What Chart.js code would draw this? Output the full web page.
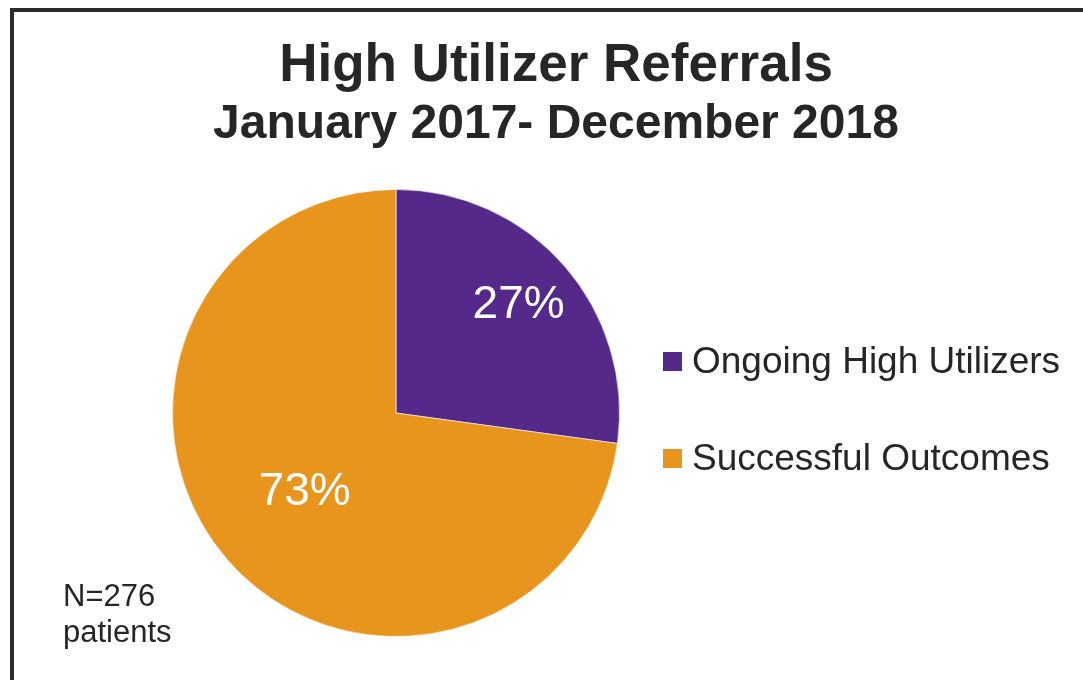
<!DOCTYPE html>
<html>
<head>
<meta charset="utf-8">
<script src="https://cdn.jsdelivr.net/npm/chart.js@4.4.1/dist/chart.umd.min.js"></script>
<style>
  html, body { margin: 0; padding: 0; background: #fff; overflow: hidden; }
  #wrap { position: relative; width: 1083px; height: 680px; }
  #frame {
    position: absolute; left: 10px; top: 8px; width: 2000px; height: 2000px;
    border-left: 4px solid #2b2b2b; border-top: 4px solid #2b2b2b;
  }
  #myChart { position: absolute; left: 0; top: 0; }
</style>
</head>
<body>
<div id="wrap">
  <div id="frame"></div>
  <canvas id="myChart" width="1083" height="680"></canvas>
</div>
<script>
(function () {
    "use strict";

    // data (N=276 patients, 27% / 73%)
    var categories = ['Ongoing High Utilizers', 'Successful Outcomes'];
    var patients = [75, 201];
    var sliceColors = ['#55298a', '#e8951d'];

    var titleText = 'High Utilizer Referrals';
    var subtitleText = 'January 2017- December 2018';

    // how far out along the radius each % label sits
    var labelRadius = [0.74, 0.53];

    var textColor = '#262626';
    var fontFamily = '"Liberation Sans", Arial, sans-serif';

    var extras = {
        id: 'extras',
        afterDraw: function (chart) {
            var c = chart.ctx;
            var meta = chart.getDatasetMeta(0);
            var ds = chart.data.datasets[0];
            var total = ds.data.reduce(function (a, b) { return a + b; }, 0);
            c.save();

            // title + subtitle
            c.fillStyle = textColor;
            c.textAlign = 'center';
            c.textBaseline = 'alphabetic';
            c.font = 'bold 53px ' + fontFamily;
            c.fillText(titleText, 556, 81);
            c.font = 'bold 48px ' + fontFamily;
            c.fillText(subtitleText, 556, 138);

            // percentage labels on the slices
            c.fillStyle = '#ffffff';
            c.font = '46px ' + fontFamily;
            c.textBaseline = 'middle';
            meta.data.forEach(function (arc, i) {
                var p = arc.getProps(['x', 'y', 'startAngle', 'endAngle', 'outerRadius'], true);
                var mid = (p.startAngle + p.endAngle) / 2;
                var r = p.outerRadius * labelRadius[i];
                var pct = Math.round(ds.data[i] / total * 100) + '%';
                c.fillText(pct, p.x + Math.cos(mid) * r - 2, p.y + Math.sin(mid) * r + 1);
            });

            // legend
            c.textAlign = 'left';
            c.textBaseline = 'alphabetic';
            c.font = '37px ' + fontFamily;
            chart.data.labels.forEach(function (lbl, i) {
                var y = 373 + i * 97;
                c.fillStyle = ds.backgroundColor[i];
                c.fillRect(663, y - 21, 19, 19);
                c.fillStyle = textColor;
                c.fillText(lbl, 692, y);
            });

            // N note
            c.font = '31px ' + fontFamily;
            c.fillText('N=' + total, 63, 606);
            c.fillText('patients', 63, 642);

            c.restore();
        }
    };

    var ctx = document.getElementById('myChart').getContext('2d');
    var chart = new Chart(ctx, {
        type: 'pie',
        data: {
            labels: categories,
            datasets: [{
                data: patients,
                backgroundColor: sliceColors,
                borderColor: 'rgba(255,255,255,0.6)',
                borderWidth: 1
            }]
        },
        options: {
            responsive: false,
            animation: false,
            layout: {
                padding: { left: 172, right: 463, top: 189, bottom: 43 }
            },
            plugins: {
                legend: { display: false },
                title: { display: false },
                tooltip: { enabled: false }
            }
        },
        plugins: [extras]
    });
})();
</script>
</body>
</html>
